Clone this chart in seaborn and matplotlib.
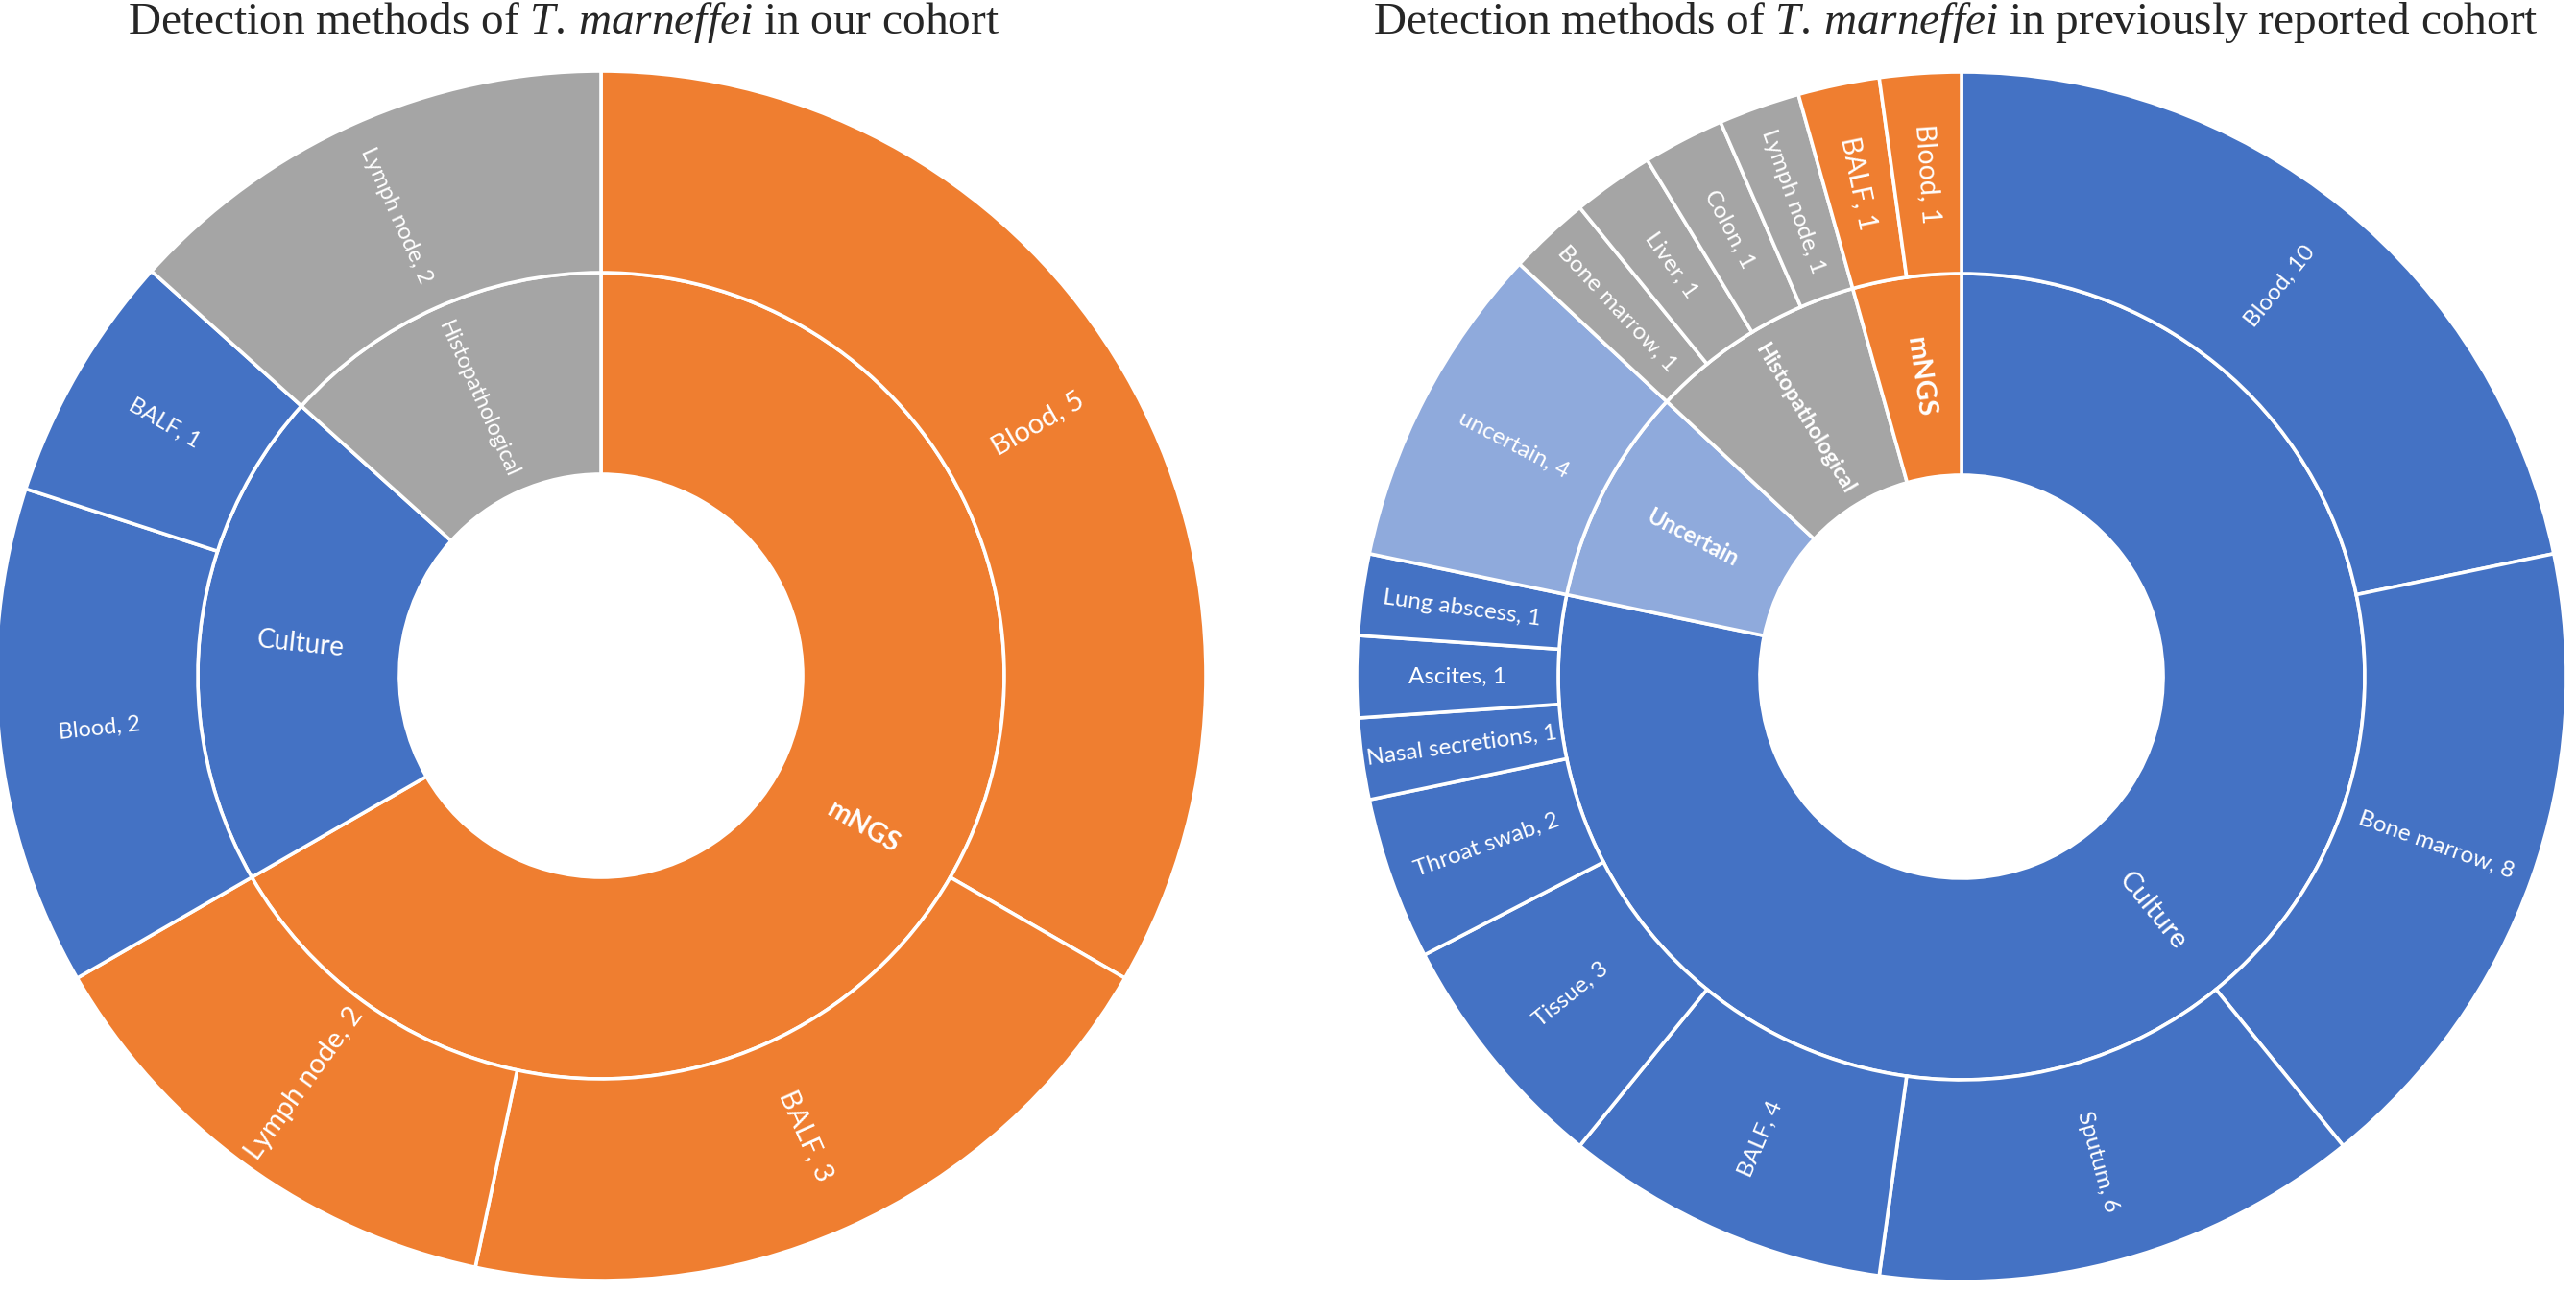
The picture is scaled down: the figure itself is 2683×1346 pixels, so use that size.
"""Two sunburst (nested donut) charts: detection methods of T. marneffei."""

import matplotlib

matplotlib.use("Agg")
import matplotlib.pyplot as plt
import numpy as np
import seaborn as sns

# left chart: our cohort (clockwise from 12 o'clock)
ours_methods = ["mNGS", "Culture", "Histopathological"]
ours_samples = [["Blood", "BALF", "Lymph node"], ["Blood", "BALF"], ["Lymph node"]]
ours_counts = [[5, 3, 2], [2, 1], [2]]

# right chart: previously reported cohort
prev_methods = ["Culture", "Uncertain", "Histopathological", "mNGS"]
prev_samples = [
    ["Blood", "Bone marrow", "Sputum", "BALF", "Tissue", "Throat swab",
     "Nasal secretions", "Ascites", "Lung abscess"],
    ["uncertain"],
    ["Bone marrow", "Liver", "Colon", "Lymph node"],
    ["BALF", "Blood"],
]
prev_counts = [[10, 8, 6, 4, 3, 2, 1, 1, 1], [4], [1, 1, 1, 1], [1, 1]]

ours_title = r"Detection methods of $\mathit{T.\,marneffei}$ in our cohort"
prev_title = r"Detection methods of $\mathit{T.\,marneffei}$ in previously reported cohort"

# office-like palette
method_colors = {
    "mNGS": "#EF7E30",
    "Culture": "#4472C4",
    "Histopathological": "#A5A5A5",
    "Uncertain": "#8FAADC",
}

sns.set_theme(style="white")
plt.rcParams["font.family"] = ["Lato", "DejaVu Sans"]
plt.rcParams["mathtext.fontset"] = "custom"
plt.rcParams["mathtext.rm"] = "Liberation Serif"
plt.rcParams["mathtext.it"] = "Liberation Serif:italic"

W, H = 2683, 1346
R_PX = 630
EDGE = dict(edgecolor="white", linewidth=2.6)


def radial_angles(wedge):
    mid = (wedge.theta1 + wedge.theta2) / 2.0
    rot = (mid + 180) % 360 - 180
    if rot > 90:
        rot -= 180
    elif rot < -90:
        rot += 180
    return np.deg2rad(mid), rot


def put_label(ax, wedge, text, r, size, bold=False):
    mid, rot = radial_angles(wedge)
    ax.text(r * np.cos(mid), r * np.sin(mid), text, color="white",
            fontsize=size, fontweight="bold" if bold else "normal",
            rotation=rot, rotation_mode="anchor", ha="center", va="center")


# function to draw one two-level sunburst into an axes
def draw_sunburst(ax, methods, samples, counts, inner_sizes, inner_bold,
                  outer_sizes, outer_default):
    totals = [sum(c) for c in counts]
    inner_colors = [method_colors[m] for m in methods]
    flat_counts = [v for c in counts for v in c]
    flat_colors = [method_colors[m] for m, c in zip(methods, counts) for _ in c]
    flat_labels = [f"{s}, {v}" for ss, c in zip(samples, counts) for s, v in zip(ss, c)]
    flat_groups = [m for m, c in zip(methods, counts) for _ in c]

    inner, _ = ax.pie(totals, radius=2 / 3, colors=inner_colors, startangle=90,
                      counterclock=False, wedgeprops=dict(width=1 / 3, **EDGE))
    outer, _ = ax.pie(flat_counts, radius=1.0, colors=flat_colors, startangle=90,
                      counterclock=False, wedgeprops=dict(width=1 / 3, **EDGE))

    for w, m in zip(inner, methods):
        put_label(ax, w, m, 0.5, inner_sizes[m], bold=m in inner_bold)
    for w, lab, g in zip(outer, flat_labels, flat_groups):
        put_label(ax, w, lab, 5 / 6, outer_sizes.get(g, outer_default))

    ax.set_xlim(-1, 1)
    ax.set_ylim(-1, 1)
    ax.set_aspect("equal")
    ax.axis("off")


fig = plt.figure(figsize=(W / 100, H / 100), dpi=100)
fig.patch.set_facecolor("white")

ax_l = fig.add_axes([(626 - R_PX) / W, (H - 704 - R_PX) / H, 2 * R_PX / W, 2 * R_PX / H])
draw_sunburst(
    ax_l, ours_methods, ours_samples, ours_counts,
    inner_sizes={"mNGS": 20.5, "Culture": 20, "Histopathological": 16.5},
    inner_bold={"mNGS"},
    outer_sizes={"mNGS": 21},
    outer_default=17,
)

ax_r = fig.add_axes([(2043 - R_PX) / W, (H - 705 - R_PX) / H, 2 * R_PX / W, 2 * R_PX / H])
draw_sunburst(
    ax_r, prev_methods, prev_samples, prev_counts,
    inner_sizes={"Culture": 21, "Uncertain": 17, "Histopathological": 16.5, "mNGS": 21},
    inner_bold={"Uncertain", "Histopathological", "mNGS"},
    outer_sizes={"mNGS": 20.5},
    outer_default=17.5,
)

fig.text(587 / W, 1 - 35 / H, ours_title, ha="center", va="baseline",
         fontsize=34, family="Liberation Serif")
fig.text(2037 / W, 1 - 35 / H, prev_title, ha="center", va="baseline",
         fontsize=34, family="Liberation Serif")

fig.savefig("out.png", dpi=100, facecolor="white")
plt.close(fig)
